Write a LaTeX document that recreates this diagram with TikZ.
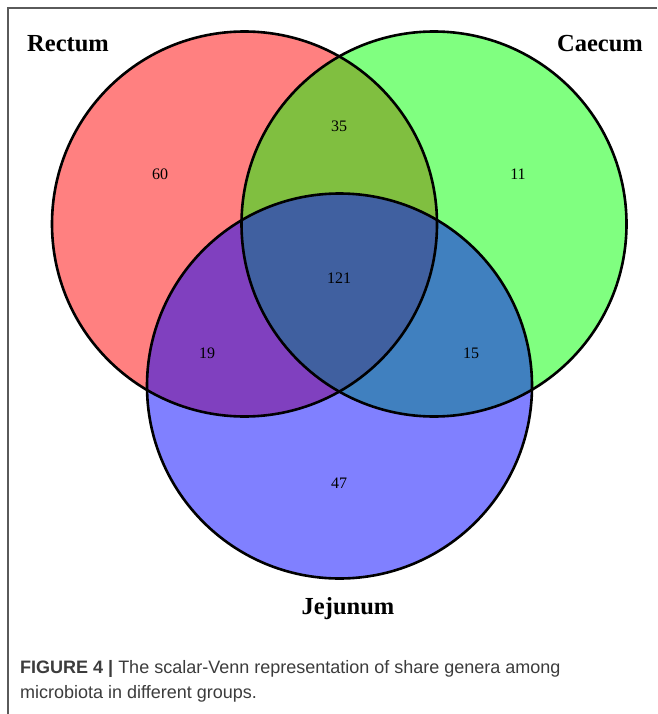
\documentclass[tikz,border=0pt]{standalone}
\usepackage{fontspec}
\setmainfont{Liberation Serif}
\newfontfamily\capfont{Liberation Sans}
\definecolor{rectumfill}{RGB}{255,128,128}
\definecolor{caecumfill}{RGB}{128,255,128}
\definecolor{jejunumfill}{RGB}{128,128,255}
\definecolor{rcfill}{RGB}{128,191,64}
\definecolor{rjfill}{RGB}{128,64,191}
\definecolor{cjfill}{RGB}{64,128,191}
\definecolor{rcjfill}{RGB}{64,96,160}
\definecolor{framegray}{RGB}{90,90,90}
\definecolor{captext}{RGB}{60,60,60}
\begin{document}
\begin{tikzpicture}[x=1pt,y=-1pt,
  setname/.style={font=\fontsize{24.5}{24.5}\selectfont\bfseries, inner sep=0pt},
  count/.style={font=\fontsize{16}{16}\selectfont, inner sep=0pt},
  outline/.style={draw=black, line width=2.6pt},
  captionline/.style={font=\capfont\fontsize{18}{18}\selectfont, text=captext, inner sep=0pt, anchor=base west}]
\useasboundingbox (0,0) rectangle (657,714);
\fill[white] (0,0) rectangle (657,714);

% page frame: top and left rules
\draw[framegray, line width=1.3pt] (657,8) -- (8,8) -- (8,714);

% circle centres
\coordinate (R) at (244.5,224);
\coordinate (C) at (434,224);
\coordinate (J) at (339.5,386);
\def\rad{192.5pt}

% single sets
\fill[rectumfill] (R) circle[radius=\rad];
\fill[caecumfill] (C) circle[radius=\rad];
\fill[jejunumfill] (J) circle[radius=\rad];

% pairwise overlaps
\begin{scope}
  \clip (R) circle[radius=\rad];
  \fill[rcfill] (C) circle[radius=\rad];
  \fill[rjfill] (J) circle[radius=\rad];
\end{scope}
\begin{scope}
  \clip (C) circle[radius=\rad];
  \fill[cjfill] (J) circle[radius=\rad];
\end{scope}

% triple overlap
\begin{scope}
  \clip (R) circle[radius=\rad];
  \clip (C) circle[radius=\rad];
  \fill[rcjfill] (J) circle[radius=\rad];
\end{scope}

% outlines
\draw[outline] (R) circle[radius=\rad];
\draw[outline] (C) circle[radius=\rad];
\draw[outline] (J) circle[radius=\rad];

% set names
\node[setname, anchor=base west] (nR) at (27,52) {Rectum};
\node[setname, anchor=base east] (nC) at (643,52) {Caecum};
\node[setname, anchor=base] (nJ) at (348,614) {Jejunum};

% region counts
\node[count] (c60) at (160,174) {60};
\node[count] (c35) at (339,126) {35};
\node[count] (c11) at (518,174) {11};
\node[count] (c121) at (339,278) {121};
\node[count] (c19) at (207,353) {19};
\node[count] (c15) at (471,353) {15};
\node[count] (c47) at (339,483) {47};

% caption
\node[captionline] (cap1) at (20,673) {{\bfseries FIGURE 4 |} The scalar-Venn representation of share genera among};
\node[captionline] (cap2) at (20,698) {microbiota in different groups.};
\end{tikzpicture}
\end{document}
